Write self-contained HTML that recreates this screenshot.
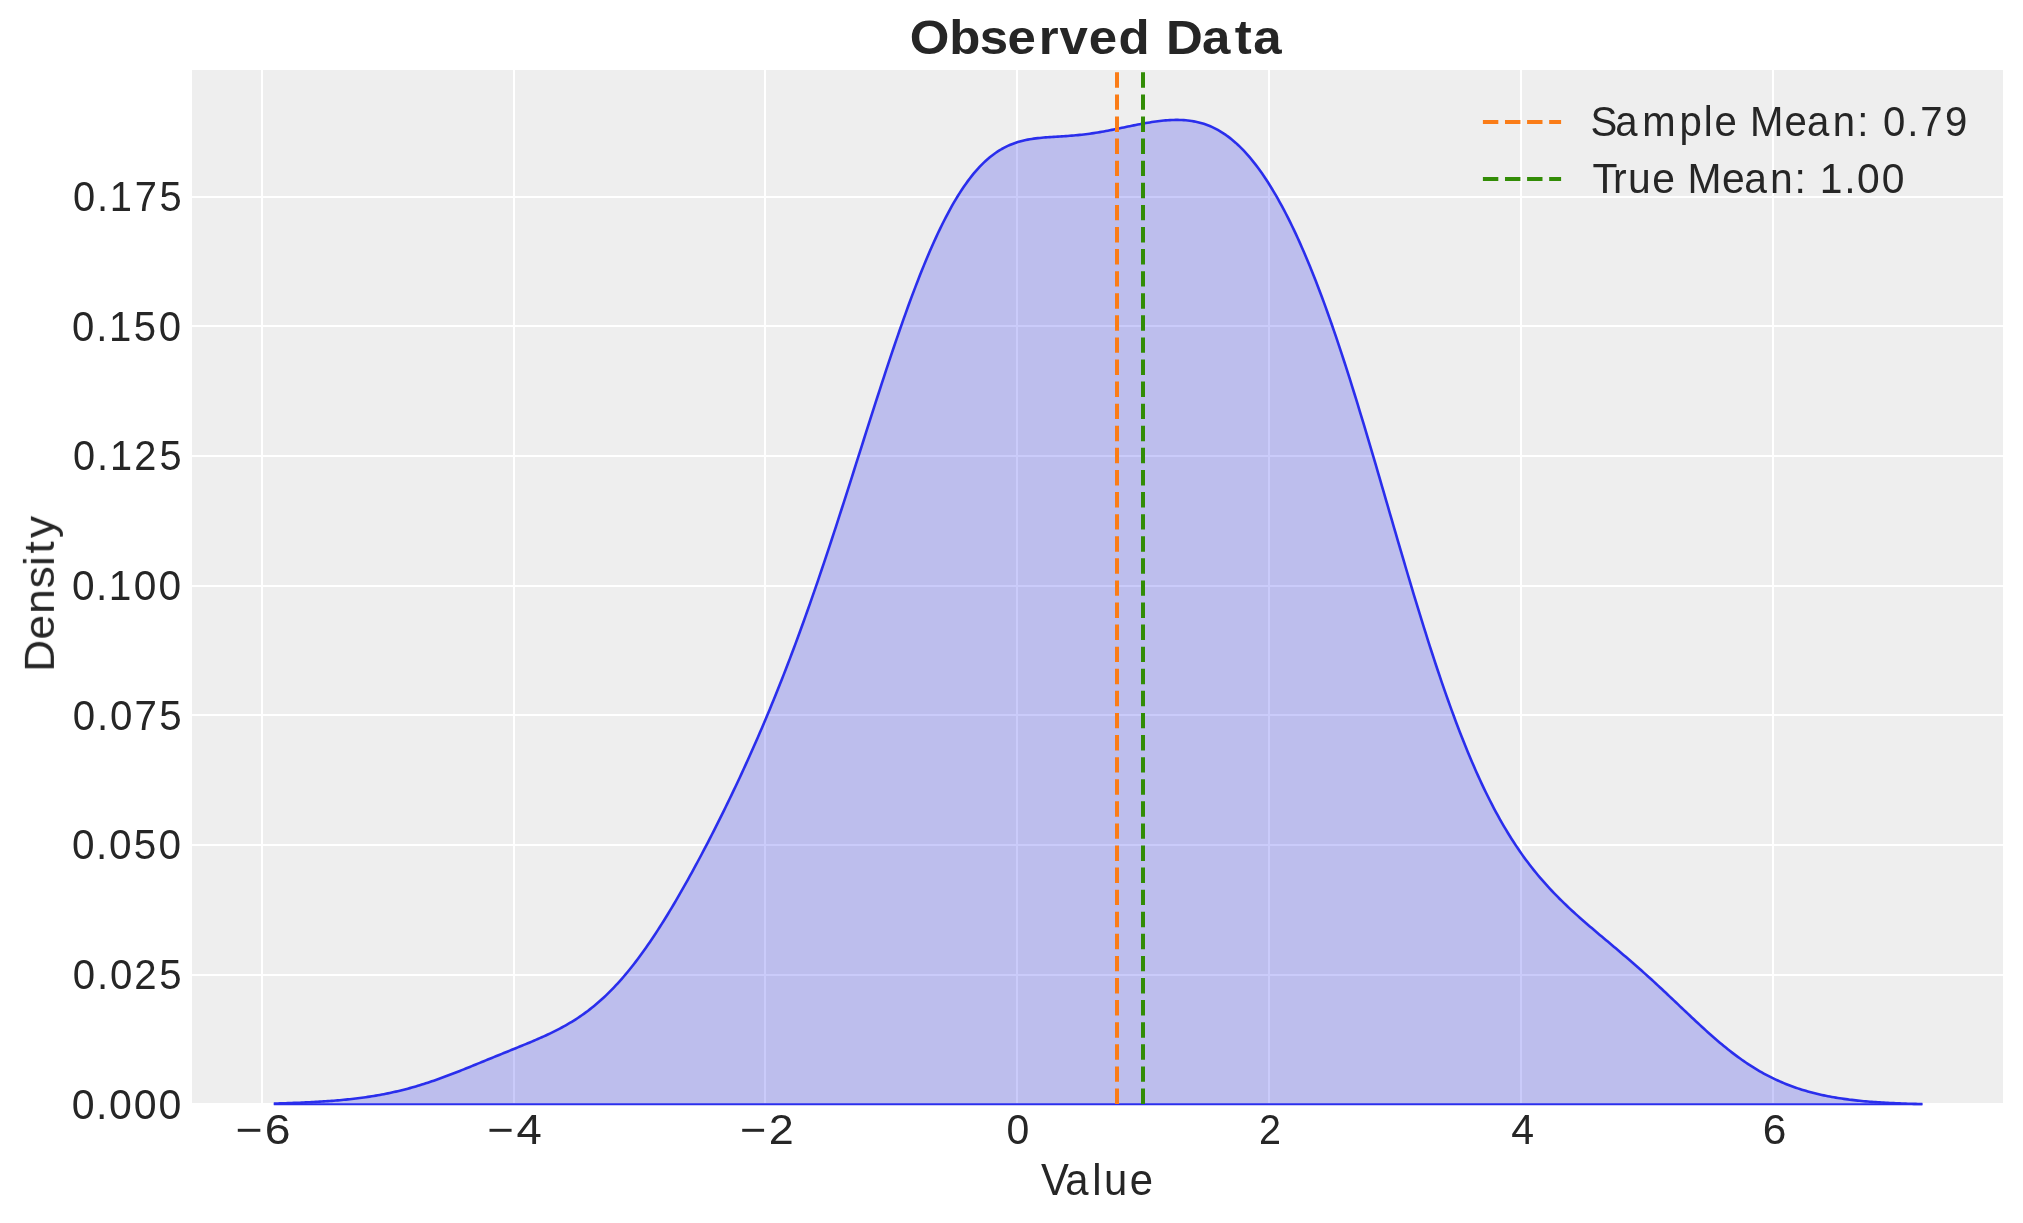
<!DOCTYPE html>
<html><head><meta charset="utf-8"><style>
html,body{margin:0;padding:0;background:#fff;overflow:hidden}
svg{display:block}
text{font-family:"Liberation Sans", sans-serif;fill:#262626}
g.txt{will-change:transform}
</style></head><body>
<svg width="2023" height="1223" viewBox="0 0 2023 1223">
<rect x="0" y="0" width="2023" height="1223" fill="#ffffff"/>
<rect x="192" y="70" width="1811" height="1033" fill="#eeeeee"/>
<g stroke="#ffffff" stroke-width="2" shape-rendering="crispEdges">
<line x1="262" y1="70" x2="262" y2="1103"/>
<line x1="514" y1="70" x2="514" y2="1103"/>
<line x1="765" y1="70" x2="765" y2="1103"/>
<line x1="1017" y1="70" x2="1017" y2="1103"/>
<line x1="1269" y1="70" x2="1269" y2="1103"/>
<line x1="1521" y1="70" x2="1521" y2="1103"/>
<line x1="1773" y1="70" x2="1773" y2="1103"/>
<line x1="192" y1="197" x2="2003" y2="197"/>
<line x1="192" y1="326" x2="2003" y2="326"/>
<line x1="192" y1="456" x2="2003" y2="456"/>
<line x1="192" y1="586" x2="2003" y2="586"/>
<line x1="192" y1="715" x2="2003" y2="715"/>
<line x1="192" y1="845" x2="2003" y2="845"/>
<line x1="192" y1="975" x2="2003" y2="975"/>
</g>
<path d="M273.8,1103.53 L275.8,1103.48 L277.8,1103.43 L279.8,1103.37 L281.8,1103.31 L283.8,1103.25 L285.8,1103.19 L287.8,1103.13 L289.8,1103.06 L291.8,1102.99 L293.8,1102.92 L295.8,1102.84 L297.8,1102.76 L299.8,1102.68 L301.8,1102.59 L303.8,1102.51 L305.8,1102.41 L307.8,1102.32 L309.8,1102.22 L311.8,1102.12 L313.8,1102.01 L315.8,1101.90 L317.8,1101.78 L319.8,1101.66 L321.8,1101.54 L323.8,1101.41 L325.8,1101.27 L327.8,1101.13 L329.8,1100.99 L331.8,1100.84 L333.8,1100.68 L335.8,1100.51 L337.8,1100.35 L339.8,1100.17 L341.8,1099.99 L343.8,1099.80 L345.8,1099.60 L347.8,1099.40 L349.8,1099.18 L351.8,1098.96 L353.8,1098.74 L355.8,1098.50 L357.8,1098.26 L359.8,1098.00 L361.8,1097.74 L363.8,1097.47 L365.8,1097.18 L367.8,1096.89 L369.8,1096.59 L371.8,1096.28 L373.8,1095.95 L375.8,1095.62 L377.8,1095.28 L379.8,1094.92 L381.8,1094.55 L383.8,1094.17 L385.8,1093.78 L387.8,1093.38 L389.8,1092.96 L391.8,1092.54 L393.8,1092.10 L395.8,1091.64 L397.8,1091.18 L399.8,1090.70 L401.8,1090.21 L403.8,1089.71 L405.8,1089.19 L407.8,1088.66 L409.8,1088.12 L411.8,1087.56 L413.8,1087.00 L415.8,1086.42 L417.8,1085.82 L419.8,1085.22 L421.8,1084.60 L423.8,1083.97 L425.8,1083.33 L427.8,1082.68 L429.8,1082.02 L431.8,1081.34 L433.8,1080.65 L435.8,1079.96 L437.8,1079.25 L439.8,1078.54 L441.8,1077.81 L443.8,1077.08 L445.8,1076.33 L447.8,1075.58 L449.8,1074.82 L451.8,1074.06 L453.8,1073.28 L455.8,1072.51 L457.8,1071.72 L459.8,1070.93 L461.8,1070.13 L463.8,1069.34 L465.8,1068.53 L467.8,1067.72 L469.8,1066.92 L471.8,1066.10 L473.8,1065.29 L475.8,1064.47 L477.8,1063.65 L479.8,1062.84 L481.8,1062.02 L483.8,1061.20 L485.8,1060.38 L487.8,1059.56 L489.8,1058.74 L491.8,1057.93 L493.8,1057.11 L495.8,1056.29 L497.8,1055.48 L499.8,1054.67 L501.8,1053.85 L503.8,1053.04 L505.8,1052.23 L507.8,1051.42 L509.8,1050.61 L511.8,1049.80 L513.8,1048.99 L515.8,1048.18 L517.8,1047.36 L519.8,1046.55 L521.8,1045.73 L523.8,1044.91 L525.8,1044.09 L527.8,1043.26 L529.8,1042.43 L531.8,1041.59 L533.8,1040.74 L535.8,1039.88 L537.8,1039.02 L539.8,1038.14 L541.8,1037.26 L543.8,1036.36 L545.8,1035.45 L547.8,1034.52 L549.8,1033.58 L551.8,1032.62 L553.8,1031.64 L555.8,1030.64 L557.8,1029.62 L559.8,1028.58 L561.8,1027.52 L563.8,1026.42 L565.8,1025.31 L567.8,1024.16 L569.8,1022.99 L571.8,1021.79 L573.8,1020.55 L575.8,1019.28 L577.8,1017.98 L579.8,1016.64 L581.8,1015.27 L583.8,1013.86 L585.8,1012.41 L587.8,1010.92 L589.8,1009.39 L591.8,1007.82 L593.8,1006.21 L595.8,1004.55 L597.8,1002.85 L599.8,1001.10 L601.8,999.31 L603.8,997.48 L605.8,995.60 L607.8,993.67 L609.8,991.69 L611.8,989.67 L613.8,987.59 L615.8,985.47 L617.8,983.30 L619.8,981.09 L621.8,978.82 L623.8,976.51 L625.8,974.15 L627.8,971.74 L629.8,969.28 L631.8,966.78 L633.8,964.23 L635.8,961.63 L637.8,958.99 L639.8,956.30 L641.8,953.56 L643.8,950.78 L645.8,947.96 L647.8,945.10 L649.8,942.19 L651.8,939.24 L653.8,936.24 L655.8,933.21 L657.8,930.14 L659.8,927.03 L661.8,923.88 L663.8,920.69 L665.8,917.47 L667.8,914.21 L669.8,910.91 L671.8,907.59 L673.8,904.22 L675.8,900.83 L677.8,897.40 L679.8,893.94 L681.8,890.45 L683.8,886.94 L685.8,883.39 L687.8,879.81 L689.8,876.20 L691.8,872.57 L693.8,868.91 L695.8,865.22 L697.8,861.50 L699.8,857.76 L701.8,853.99 L703.8,850.20 L705.8,846.38 L707.8,842.53 L709.8,838.66 L711.8,834.76 L713.8,830.84 L715.8,826.89 L717.8,822.92 L719.8,818.92 L721.8,814.90 L723.8,810.84 L725.8,806.76 L727.8,802.66 L729.8,798.53 L731.8,794.36 L733.8,790.17 L735.8,785.95 L737.8,781.71 L739.8,777.43 L741.8,773.12 L743.8,768.78 L745.8,764.41 L747.8,760.00 L749.8,755.56 L751.8,751.09 L753.8,746.59 L755.8,742.04 L757.8,737.47 L759.8,732.85 L761.8,728.20 L763.8,723.51 L765.8,718.78 L767.8,714.02 L769.8,709.21 L771.8,704.36 L773.8,699.47 L775.8,694.54 L777.8,689.57 L779.8,684.56 L781.8,679.50 L783.8,674.40 L785.8,669.26 L787.8,664.07 L789.8,658.84 L791.8,653.56 L793.8,648.24 L795.8,642.88 L797.8,637.47 L799.8,632.02 L801.8,626.53 L803.8,620.99 L805.8,615.41 L807.8,609.79 L809.8,604.12 L811.8,598.41 L813.8,592.67 L815.8,586.88 L817.8,581.05 L819.8,575.19 L821.8,569.29 L823.8,563.35 L825.8,557.38 L827.8,551.37 L829.8,545.33 L831.8,539.26 L833.8,533.17 L835.8,527.04 L837.8,520.89 L839.8,514.72 L841.8,508.52 L843.8,502.30 L845.8,496.07 L847.8,489.82 L849.8,483.55 L851.8,477.28 L853.8,470.99 L855.8,464.70 L857.8,458.40 L859.8,452.10 L861.8,445.80 L863.8,439.51 L865.8,433.22 L867.8,426.93 L869.8,420.66 L871.8,414.40 L873.8,408.16 L875.8,401.94 L877.8,395.74 L879.8,389.56 L881.8,383.42 L883.8,377.30 L885.8,371.21 L887.8,365.16 L889.8,359.16 L891.8,353.19 L893.8,347.26 L895.8,341.39 L897.8,335.56 L899.8,329.79 L901.8,324.07 L903.8,318.42 L905.8,312.82 L907.8,307.29 L909.8,301.82 L911.8,296.42 L913.8,291.10 L915.8,285.84 L917.8,280.67 L919.8,275.57 L921.8,270.55 L923.8,265.62 L925.8,260.77 L927.8,256.00 L929.8,251.33 L931.8,246.75 L933.8,242.25 L935.8,237.86 L937.8,233.55 L939.8,229.35 L941.8,225.24 L943.8,221.23 L945.8,217.32 L947.8,213.52 L949.8,209.81 L951.8,206.21 L953.8,202.71 L955.8,199.31 L957.8,196.02 L959.8,192.84 L961.8,189.75 L963.8,186.78 L965.8,183.90 L967.8,181.13 L969.8,178.47 L971.8,175.90 L973.8,173.44 L975.8,171.08 L977.8,168.82 L979.8,166.66 L981.8,164.60 L983.8,162.63 L985.8,160.76 L987.8,158.98 L989.8,157.30 L991.8,155.70 L993.8,154.19 L995.8,152.77 L997.8,151.43 L999.8,150.18 L1001.8,149.00 L1003.8,147.90 L1005.8,146.87 L1007.8,145.91 L1009.8,145.03 L1011.8,144.20 L1013.8,143.44 L1015.8,142.74 L1017.8,142.10 L1019.8,141.51 L1021.8,140.97 L1023.8,140.48 L1025.8,140.04 L1027.8,139.64 L1029.8,139.27 L1031.8,138.94 L1033.8,138.65 L1035.8,138.38 L1037.8,138.14 L1039.8,137.92 L1041.8,137.73 L1043.8,137.55 L1045.8,137.39 L1047.8,137.24 L1049.8,137.10 L1051.8,136.97 L1053.8,136.84 L1055.8,136.72 L1057.8,136.60 L1059.8,136.48 L1061.8,136.36 L1063.8,136.23 L1065.8,136.10 L1067.8,135.95 L1069.8,135.81 L1071.8,135.65 L1073.8,135.48 L1075.8,135.30 L1077.8,135.11 L1079.8,134.90 L1081.8,134.68 L1083.8,134.45 L1085.8,134.21 L1087.8,133.95 L1089.8,133.68 L1091.8,133.39 L1093.8,133.09 L1095.8,132.78 L1097.8,132.46 L1099.8,132.12 L1101.8,131.77 L1103.8,131.41 L1105.8,131.05 L1107.8,130.67 L1109.8,130.28 L1111.8,129.89 L1113.8,129.49 L1115.8,129.09 L1117.8,128.68 L1119.8,128.27 L1121.8,127.85 L1123.8,127.44 L1125.8,127.02 L1127.8,126.60 L1129.8,126.19 L1131.8,125.78 L1133.8,125.38 L1135.8,124.98 L1137.8,124.58 L1139.8,124.19 L1141.8,123.82 L1143.8,123.45 L1145.8,123.09 L1147.8,122.74 L1149.8,122.41 L1151.8,122.09 L1153.8,121.79 L1155.8,121.51 L1157.8,121.24 L1159.8,121.00 L1161.8,120.77 L1163.8,120.57 L1165.8,120.39 L1167.8,120.24 L1169.8,120.11 L1171.8,120.01 L1173.8,119.95 L1175.8,119.91 L1177.8,119.91 L1179.8,119.95 L1181.8,120.02 L1183.8,120.13 L1185.8,120.29 L1187.8,120.48 L1189.8,120.73 L1191.8,121.02 L1193.8,121.35 L1195.8,121.74 L1197.8,122.19 L1199.8,122.68 L1201.8,123.24 L1203.8,123.85 L1205.8,124.52 L1207.8,125.26 L1209.8,126.05 L1211.8,126.92 L1213.8,127.85 L1215.8,128.85 L1217.8,129.92 L1219.8,131.06 L1221.8,132.28 L1223.8,133.56 L1225.8,134.93 L1227.8,136.37 L1229.8,137.88 L1231.8,139.48 L1233.8,141.15 L1235.8,142.90 L1237.8,144.73 L1239.8,146.65 L1241.8,148.64 L1243.8,150.72 L1245.8,152.87 L1247.8,155.11 L1249.8,157.44 L1251.8,159.84 L1253.8,162.33 L1255.8,164.90 L1257.8,167.56 L1259.8,170.29 L1261.8,173.11 L1263.8,176.02 L1265.8,179.01 L1267.8,182.08 L1269.8,185.24 L1271.8,188.48 L1273.8,191.80 L1275.8,195.21 L1277.8,198.70 L1279.8,202.27 L1281.8,205.93 L1283.8,209.68 L1285.8,213.50 L1287.8,217.42 L1289.8,221.41 L1291.8,225.49 L1293.8,229.66 L1295.8,233.91 L1297.8,238.24 L1299.8,242.66 L1301.8,247.16 L1303.8,251.75 L1305.8,256.42 L1307.8,261.17 L1309.8,266.01 L1311.8,270.93 L1313.8,275.93 L1315.8,281.01 L1317.8,286.18 L1319.8,291.42 L1321.8,296.75 L1323.8,302.15 L1325.8,307.63 L1327.8,313.19 L1329.8,318.83 L1331.8,324.53 L1333.8,330.31 L1335.8,336.17 L1337.8,342.09 L1339.8,348.08 L1341.8,354.13 L1343.8,360.25 L1345.8,366.43 L1347.8,372.68 L1349.8,378.98 L1351.8,385.33 L1353.8,391.74 L1355.8,398.20 L1357.8,404.71 L1359.8,411.26 L1361.8,417.86 L1363.8,424.49 L1365.8,431.17 L1367.8,437.88 L1369.8,444.61 L1371.8,451.38 L1373.8,458.18 L1375.8,464.99 L1377.8,471.83 L1379.8,478.68 L1381.8,485.54 L1383.8,492.41 L1385.8,499.29 L1387.8,506.18 L1389.8,513.06 L1391.8,519.94 L1393.8,526.81 L1395.8,533.68 L1397.8,540.53 L1399.8,547.37 L1401.8,554.19 L1403.8,560.98 L1405.8,567.75 L1407.8,574.50 L1409.8,581.21 L1411.8,587.89 L1413.8,594.53 L1415.8,601.13 L1417.8,607.70 L1419.8,614.21 L1421.8,620.69 L1423.8,627.11 L1425.8,633.48 L1427.8,639.79 L1429.8,646.05 L1431.8,652.25 L1433.8,658.39 L1435.8,664.47 L1437.8,670.48 L1439.8,676.43 L1441.8,682.30 L1443.8,688.11 L1445.8,693.85 L1447.8,699.52 L1449.8,705.11 L1451.8,710.62 L1453.8,716.06 L1455.8,721.43 L1457.8,726.71 L1459.8,731.92 L1461.8,737.05 L1463.8,742.09 L1465.8,747.06 L1467.8,751.94 L1469.8,756.74 L1471.8,761.47 L1473.8,766.10 L1475.8,770.66 L1477.8,775.14 L1479.8,779.53 L1481.8,783.85 L1483.8,788.08 L1485.8,792.23 L1487.8,796.30 L1489.8,800.29 L1491.8,804.21 L1493.8,808.04 L1495.8,811.80 L1497.8,815.48 L1499.8,819.09 L1501.8,822.62 L1503.8,826.08 L1505.8,829.46 L1507.8,832.78 L1509.8,836.03 L1511.8,839.20 L1513.8,842.32 L1515.8,845.36 L1517.8,848.34 L1519.8,851.26 L1521.8,854.12 L1523.8,856.92 L1525.8,859.66 L1527.8,862.34 L1529.8,864.97 L1531.8,867.55 L1533.8,870.07 L1535.8,872.55 L1537.8,874.97 L1539.8,877.36 L1541.8,879.69 L1543.8,881.98 L1545.8,884.23 L1547.8,886.44 L1549.8,888.62 L1551.8,890.75 L1553.8,892.85 L1555.8,894.92 L1557.8,896.96 L1559.8,898.96 L1561.8,900.94 L1563.8,902.89 L1565.8,904.81 L1567.8,906.71 L1569.8,908.58 L1571.8,910.44 L1573.8,912.27 L1575.8,914.09 L1577.8,915.89 L1579.8,917.67 L1581.8,919.44 L1583.8,921.19 L1585.8,922.93 L1587.8,924.67 L1589.8,926.39 L1591.8,928.10 L1593.8,929.80 L1595.8,931.50 L1597.8,933.20 L1599.8,934.88 L1601.8,936.57 L1603.8,938.25 L1605.8,939.93 L1607.8,941.61 L1609.8,943.29 L1611.8,944.98 L1613.8,946.66 L1615.8,948.35 L1617.8,950.04 L1619.8,951.73 L1621.8,953.43 L1623.8,955.14 L1625.8,956.85 L1627.8,958.57 L1629.8,960.29 L1631.8,962.02 L1633.8,963.77 L1635.8,965.51 L1637.8,967.27 L1639.8,969.04 L1641.8,970.81 L1643.8,972.60 L1645.8,974.39 L1647.8,976.20 L1649.8,978.01 L1651.8,979.83 L1653.8,981.66 L1655.8,983.50 L1657.8,985.35 L1659.8,987.20 L1661.8,989.07 L1663.8,990.94 L1665.8,992.81 L1667.8,994.70 L1669.8,996.58 L1671.8,998.48 L1673.8,1000.37 L1675.8,1002.27 L1677.8,1004.17 L1679.8,1006.07 L1681.8,1007.97 L1683.8,1009.87 L1685.8,1011.77 L1687.8,1013.67 L1689.8,1015.56 L1691.8,1017.44 L1693.8,1019.32 L1695.8,1021.19 L1697.8,1023.06 L1699.8,1024.91 L1701.8,1026.75 L1703.8,1028.58 L1705.8,1030.40 L1707.8,1032.20 L1709.8,1033.99 L1711.8,1035.76 L1713.8,1037.51 L1715.8,1039.24 L1717.8,1040.96 L1719.8,1042.65 L1721.8,1044.33 L1723.8,1045.98 L1725.8,1047.61 L1727.8,1049.21 L1729.8,1050.79 L1731.8,1052.35 L1733.8,1053.88 L1735.8,1055.38 L1737.8,1056.86 L1739.8,1058.31 L1741.8,1059.73 L1743.8,1061.12 L1745.8,1062.49 L1747.8,1063.83 L1749.8,1065.14 L1751.8,1066.43 L1753.8,1067.68 L1755.8,1068.91 L1757.8,1070.10 L1759.8,1071.27 L1761.8,1072.41 L1763.8,1073.52 L1765.8,1074.61 L1767.8,1075.66 L1769.8,1076.69 L1771.8,1077.69 L1773.8,1078.67 L1775.8,1079.62 L1777.8,1080.54 L1779.8,1081.43 L1781.8,1082.30 L1783.8,1083.14 L1785.8,1083.96 L1787.8,1084.76 L1789.8,1085.53 L1791.8,1086.27 L1793.8,1087.00 L1795.8,1087.70 L1797.8,1088.38 L1799.8,1089.03 L1801.8,1089.67 L1803.8,1090.28 L1805.8,1090.87 L1807.8,1091.45 L1809.8,1092.00 L1811.8,1092.53 L1813.8,1093.05 L1815.8,1093.55 L1817.8,1094.03 L1819.8,1094.49 L1821.8,1094.94 L1823.8,1095.37 L1825.8,1095.78 L1827.8,1096.18 L1829.8,1096.56 L1831.8,1096.93 L1833.8,1097.29 L1835.8,1097.63 L1837.8,1097.96 L1839.8,1098.27 L1841.8,1098.57 L1843.8,1098.86 L1845.8,1099.14 L1847.8,1099.41 L1849.8,1099.67 L1851.8,1099.91 L1853.8,1100.15 L1855.8,1100.37 L1857.8,1100.59 L1859.8,1100.79 L1861.8,1100.99 L1863.8,1101.18 L1865.8,1101.36 L1867.8,1101.53 L1869.8,1101.69 L1871.8,1101.85 L1873.8,1102.00 L1875.8,1102.14 L1877.8,1102.28 L1879.8,1102.41 L1881.8,1102.53 L1883.8,1102.65 L1885.8,1102.76 L1887.8,1102.87 L1889.8,1102.97 L1891.8,1103.07 L1893.8,1103.16 L1895.8,1103.25 L1897.8,1103.33 L1899.8,1103.41 L1901.8,1103.48 L1903.8,1103.55 L1905.8,1103.62 L1907.8,1103.68 L1909.8,1103.74 L1911.8,1103.80 L1913.8,1103.86 L1915.8,1103.91 L1917.8,1103.95 L1919.8,1104.00 L1921.8,1104.04 L1922.4,1104.06 L1922.40,1104.25 L273.80,1104.25 Z" fill="#2a2eec" fill-opacity="0.25" stroke="none"/>
<line x1="273.80" y1="1104.25" x2="1922.40" y2="1104.25" stroke="#2a2eec" stroke-width="1.9"/>
<path d="M273.8,1103.53 L275.8,1103.48 L277.8,1103.43 L279.8,1103.37 L281.8,1103.31 L283.8,1103.25 L285.8,1103.19 L287.8,1103.13 L289.8,1103.06 L291.8,1102.99 L293.8,1102.92 L295.8,1102.84 L297.8,1102.76 L299.8,1102.68 L301.8,1102.59 L303.8,1102.51 L305.8,1102.41 L307.8,1102.32 L309.8,1102.22 L311.8,1102.12 L313.8,1102.01 L315.8,1101.90 L317.8,1101.78 L319.8,1101.66 L321.8,1101.54 L323.8,1101.41 L325.8,1101.27 L327.8,1101.13 L329.8,1100.99 L331.8,1100.84 L333.8,1100.68 L335.8,1100.51 L337.8,1100.35 L339.8,1100.17 L341.8,1099.99 L343.8,1099.80 L345.8,1099.60 L347.8,1099.40 L349.8,1099.18 L351.8,1098.96 L353.8,1098.74 L355.8,1098.50 L357.8,1098.26 L359.8,1098.00 L361.8,1097.74 L363.8,1097.47 L365.8,1097.18 L367.8,1096.89 L369.8,1096.59 L371.8,1096.28 L373.8,1095.95 L375.8,1095.62 L377.8,1095.28 L379.8,1094.92 L381.8,1094.55 L383.8,1094.17 L385.8,1093.78 L387.8,1093.38 L389.8,1092.96 L391.8,1092.54 L393.8,1092.10 L395.8,1091.64 L397.8,1091.18 L399.8,1090.70 L401.8,1090.21 L403.8,1089.71 L405.8,1089.19 L407.8,1088.66 L409.8,1088.12 L411.8,1087.56 L413.8,1087.00 L415.8,1086.42 L417.8,1085.82 L419.8,1085.22 L421.8,1084.60 L423.8,1083.97 L425.8,1083.33 L427.8,1082.68 L429.8,1082.02 L431.8,1081.34 L433.8,1080.65 L435.8,1079.96 L437.8,1079.25 L439.8,1078.54 L441.8,1077.81 L443.8,1077.08 L445.8,1076.33 L447.8,1075.58 L449.8,1074.82 L451.8,1074.06 L453.8,1073.28 L455.8,1072.51 L457.8,1071.72 L459.8,1070.93 L461.8,1070.13 L463.8,1069.34 L465.8,1068.53 L467.8,1067.72 L469.8,1066.92 L471.8,1066.10 L473.8,1065.29 L475.8,1064.47 L477.8,1063.65 L479.8,1062.84 L481.8,1062.02 L483.8,1061.20 L485.8,1060.38 L487.8,1059.56 L489.8,1058.74 L491.8,1057.93 L493.8,1057.11 L495.8,1056.29 L497.8,1055.48 L499.8,1054.67 L501.8,1053.85 L503.8,1053.04 L505.8,1052.23 L507.8,1051.42 L509.8,1050.61 L511.8,1049.80 L513.8,1048.99 L515.8,1048.18 L517.8,1047.36 L519.8,1046.55 L521.8,1045.73 L523.8,1044.91 L525.8,1044.09 L527.8,1043.26 L529.8,1042.43 L531.8,1041.59 L533.8,1040.74 L535.8,1039.88 L537.8,1039.02 L539.8,1038.14 L541.8,1037.26 L543.8,1036.36 L545.8,1035.45 L547.8,1034.52 L549.8,1033.58 L551.8,1032.62 L553.8,1031.64 L555.8,1030.64 L557.8,1029.62 L559.8,1028.58 L561.8,1027.52 L563.8,1026.42 L565.8,1025.31 L567.8,1024.16 L569.8,1022.99 L571.8,1021.79 L573.8,1020.55 L575.8,1019.28 L577.8,1017.98 L579.8,1016.64 L581.8,1015.27 L583.8,1013.86 L585.8,1012.41 L587.8,1010.92 L589.8,1009.39 L591.8,1007.82 L593.8,1006.21 L595.8,1004.55 L597.8,1002.85 L599.8,1001.10 L601.8,999.31 L603.8,997.48 L605.8,995.60 L607.8,993.67 L609.8,991.69 L611.8,989.67 L613.8,987.59 L615.8,985.47 L617.8,983.30 L619.8,981.09 L621.8,978.82 L623.8,976.51 L625.8,974.15 L627.8,971.74 L629.8,969.28 L631.8,966.78 L633.8,964.23 L635.8,961.63 L637.8,958.99 L639.8,956.30 L641.8,953.56 L643.8,950.78 L645.8,947.96 L647.8,945.10 L649.8,942.19 L651.8,939.24 L653.8,936.24 L655.8,933.21 L657.8,930.14 L659.8,927.03 L661.8,923.88 L663.8,920.69 L665.8,917.47 L667.8,914.21 L669.8,910.91 L671.8,907.59 L673.8,904.22 L675.8,900.83 L677.8,897.40 L679.8,893.94 L681.8,890.45 L683.8,886.94 L685.8,883.39 L687.8,879.81 L689.8,876.20 L691.8,872.57 L693.8,868.91 L695.8,865.22 L697.8,861.50 L699.8,857.76 L701.8,853.99 L703.8,850.20 L705.8,846.38 L707.8,842.53 L709.8,838.66 L711.8,834.76 L713.8,830.84 L715.8,826.89 L717.8,822.92 L719.8,818.92 L721.8,814.90 L723.8,810.84 L725.8,806.76 L727.8,802.66 L729.8,798.53 L731.8,794.36 L733.8,790.17 L735.8,785.95 L737.8,781.71 L739.8,777.43 L741.8,773.12 L743.8,768.78 L745.8,764.41 L747.8,760.00 L749.8,755.56 L751.8,751.09 L753.8,746.59 L755.8,742.04 L757.8,737.47 L759.8,732.85 L761.8,728.20 L763.8,723.51 L765.8,718.78 L767.8,714.02 L769.8,709.21 L771.8,704.36 L773.8,699.47 L775.8,694.54 L777.8,689.57 L779.8,684.56 L781.8,679.50 L783.8,674.40 L785.8,669.26 L787.8,664.07 L789.8,658.84 L791.8,653.56 L793.8,648.24 L795.8,642.88 L797.8,637.47 L799.8,632.02 L801.8,626.53 L803.8,620.99 L805.8,615.41 L807.8,609.79 L809.8,604.12 L811.8,598.41 L813.8,592.67 L815.8,586.88 L817.8,581.05 L819.8,575.19 L821.8,569.29 L823.8,563.35 L825.8,557.38 L827.8,551.37 L829.8,545.33 L831.8,539.26 L833.8,533.17 L835.8,527.04 L837.8,520.89 L839.8,514.72 L841.8,508.52 L843.8,502.30 L845.8,496.07 L847.8,489.82 L849.8,483.55 L851.8,477.28 L853.8,470.99 L855.8,464.70 L857.8,458.40 L859.8,452.10 L861.8,445.80 L863.8,439.51 L865.8,433.22 L867.8,426.93 L869.8,420.66 L871.8,414.40 L873.8,408.16 L875.8,401.94 L877.8,395.74 L879.8,389.56 L881.8,383.42 L883.8,377.30 L885.8,371.21 L887.8,365.16 L889.8,359.16 L891.8,353.19 L893.8,347.26 L895.8,341.39 L897.8,335.56 L899.8,329.79 L901.8,324.07 L903.8,318.42 L905.8,312.82 L907.8,307.29 L909.8,301.82 L911.8,296.42 L913.8,291.10 L915.8,285.84 L917.8,280.67 L919.8,275.57 L921.8,270.55 L923.8,265.62 L925.8,260.77 L927.8,256.00 L929.8,251.33 L931.8,246.75 L933.8,242.25 L935.8,237.86 L937.8,233.55 L939.8,229.35 L941.8,225.24 L943.8,221.23 L945.8,217.32 L947.8,213.52 L949.8,209.81 L951.8,206.21 L953.8,202.71 L955.8,199.31 L957.8,196.02 L959.8,192.84 L961.8,189.75 L963.8,186.78 L965.8,183.90 L967.8,181.13 L969.8,178.47 L971.8,175.90 L973.8,173.44 L975.8,171.08 L977.8,168.82 L979.8,166.66 L981.8,164.60 L983.8,162.63 L985.8,160.76 L987.8,158.98 L989.8,157.30 L991.8,155.70 L993.8,154.19 L995.8,152.77 L997.8,151.43 L999.8,150.18 L1001.8,149.00 L1003.8,147.90 L1005.8,146.87 L1007.8,145.91 L1009.8,145.03 L1011.8,144.20 L1013.8,143.44 L1015.8,142.74 L1017.8,142.10 L1019.8,141.51 L1021.8,140.97 L1023.8,140.48 L1025.8,140.04 L1027.8,139.64 L1029.8,139.27 L1031.8,138.94 L1033.8,138.65 L1035.8,138.38 L1037.8,138.14 L1039.8,137.92 L1041.8,137.73 L1043.8,137.55 L1045.8,137.39 L1047.8,137.24 L1049.8,137.10 L1051.8,136.97 L1053.8,136.84 L1055.8,136.72 L1057.8,136.60 L1059.8,136.48 L1061.8,136.36 L1063.8,136.23 L1065.8,136.10 L1067.8,135.95 L1069.8,135.81 L1071.8,135.65 L1073.8,135.48 L1075.8,135.30 L1077.8,135.11 L1079.8,134.90 L1081.8,134.68 L1083.8,134.45 L1085.8,134.21 L1087.8,133.95 L1089.8,133.68 L1091.8,133.39 L1093.8,133.09 L1095.8,132.78 L1097.8,132.46 L1099.8,132.12 L1101.8,131.77 L1103.8,131.41 L1105.8,131.05 L1107.8,130.67 L1109.8,130.28 L1111.8,129.89 L1113.8,129.49 L1115.8,129.09 L1117.8,128.68 L1119.8,128.27 L1121.8,127.85 L1123.8,127.44 L1125.8,127.02 L1127.8,126.60 L1129.8,126.19 L1131.8,125.78 L1133.8,125.38 L1135.8,124.98 L1137.8,124.58 L1139.8,124.19 L1141.8,123.82 L1143.8,123.45 L1145.8,123.09 L1147.8,122.74 L1149.8,122.41 L1151.8,122.09 L1153.8,121.79 L1155.8,121.51 L1157.8,121.24 L1159.8,121.00 L1161.8,120.77 L1163.8,120.57 L1165.8,120.39 L1167.8,120.24 L1169.8,120.11 L1171.8,120.01 L1173.8,119.95 L1175.8,119.91 L1177.8,119.91 L1179.8,119.95 L1181.8,120.02 L1183.8,120.13 L1185.8,120.29 L1187.8,120.48 L1189.8,120.73 L1191.8,121.02 L1193.8,121.35 L1195.8,121.74 L1197.8,122.19 L1199.8,122.68 L1201.8,123.24 L1203.8,123.85 L1205.8,124.52 L1207.8,125.26 L1209.8,126.05 L1211.8,126.92 L1213.8,127.85 L1215.8,128.85 L1217.8,129.92 L1219.8,131.06 L1221.8,132.28 L1223.8,133.56 L1225.8,134.93 L1227.8,136.37 L1229.8,137.88 L1231.8,139.48 L1233.8,141.15 L1235.8,142.90 L1237.8,144.73 L1239.8,146.65 L1241.8,148.64 L1243.8,150.72 L1245.8,152.87 L1247.8,155.11 L1249.8,157.44 L1251.8,159.84 L1253.8,162.33 L1255.8,164.90 L1257.8,167.56 L1259.8,170.29 L1261.8,173.11 L1263.8,176.02 L1265.8,179.01 L1267.8,182.08 L1269.8,185.24 L1271.8,188.48 L1273.8,191.80 L1275.8,195.21 L1277.8,198.70 L1279.8,202.27 L1281.8,205.93 L1283.8,209.68 L1285.8,213.50 L1287.8,217.42 L1289.8,221.41 L1291.8,225.49 L1293.8,229.66 L1295.8,233.91 L1297.8,238.24 L1299.8,242.66 L1301.8,247.16 L1303.8,251.75 L1305.8,256.42 L1307.8,261.17 L1309.8,266.01 L1311.8,270.93 L1313.8,275.93 L1315.8,281.01 L1317.8,286.18 L1319.8,291.42 L1321.8,296.75 L1323.8,302.15 L1325.8,307.63 L1327.8,313.19 L1329.8,318.83 L1331.8,324.53 L1333.8,330.31 L1335.8,336.17 L1337.8,342.09 L1339.8,348.08 L1341.8,354.13 L1343.8,360.25 L1345.8,366.43 L1347.8,372.68 L1349.8,378.98 L1351.8,385.33 L1353.8,391.74 L1355.8,398.20 L1357.8,404.71 L1359.8,411.26 L1361.8,417.86 L1363.8,424.49 L1365.8,431.17 L1367.8,437.88 L1369.8,444.61 L1371.8,451.38 L1373.8,458.18 L1375.8,464.99 L1377.8,471.83 L1379.8,478.68 L1381.8,485.54 L1383.8,492.41 L1385.8,499.29 L1387.8,506.18 L1389.8,513.06 L1391.8,519.94 L1393.8,526.81 L1395.8,533.68 L1397.8,540.53 L1399.8,547.37 L1401.8,554.19 L1403.8,560.98 L1405.8,567.75 L1407.8,574.50 L1409.8,581.21 L1411.8,587.89 L1413.8,594.53 L1415.8,601.13 L1417.8,607.70 L1419.8,614.21 L1421.8,620.69 L1423.8,627.11 L1425.8,633.48 L1427.8,639.79 L1429.8,646.05 L1431.8,652.25 L1433.8,658.39 L1435.8,664.47 L1437.8,670.48 L1439.8,676.43 L1441.8,682.30 L1443.8,688.11 L1445.8,693.85 L1447.8,699.52 L1449.8,705.11 L1451.8,710.62 L1453.8,716.06 L1455.8,721.43 L1457.8,726.71 L1459.8,731.92 L1461.8,737.05 L1463.8,742.09 L1465.8,747.06 L1467.8,751.94 L1469.8,756.74 L1471.8,761.47 L1473.8,766.10 L1475.8,770.66 L1477.8,775.14 L1479.8,779.53 L1481.8,783.85 L1483.8,788.08 L1485.8,792.23 L1487.8,796.30 L1489.8,800.29 L1491.8,804.21 L1493.8,808.04 L1495.8,811.80 L1497.8,815.48 L1499.8,819.09 L1501.8,822.62 L1503.8,826.08 L1505.8,829.46 L1507.8,832.78 L1509.8,836.03 L1511.8,839.20 L1513.8,842.32 L1515.8,845.36 L1517.8,848.34 L1519.8,851.26 L1521.8,854.12 L1523.8,856.92 L1525.8,859.66 L1527.8,862.34 L1529.8,864.97 L1531.8,867.55 L1533.8,870.07 L1535.8,872.55 L1537.8,874.97 L1539.8,877.36 L1541.8,879.69 L1543.8,881.98 L1545.8,884.23 L1547.8,886.44 L1549.8,888.62 L1551.8,890.75 L1553.8,892.85 L1555.8,894.92 L1557.8,896.96 L1559.8,898.96 L1561.8,900.94 L1563.8,902.89 L1565.8,904.81 L1567.8,906.71 L1569.8,908.58 L1571.8,910.44 L1573.8,912.27 L1575.8,914.09 L1577.8,915.89 L1579.8,917.67 L1581.8,919.44 L1583.8,921.19 L1585.8,922.93 L1587.8,924.67 L1589.8,926.39 L1591.8,928.10 L1593.8,929.80 L1595.8,931.50 L1597.8,933.20 L1599.8,934.88 L1601.8,936.57 L1603.8,938.25 L1605.8,939.93 L1607.8,941.61 L1609.8,943.29 L1611.8,944.98 L1613.8,946.66 L1615.8,948.35 L1617.8,950.04 L1619.8,951.73 L1621.8,953.43 L1623.8,955.14 L1625.8,956.85 L1627.8,958.57 L1629.8,960.29 L1631.8,962.02 L1633.8,963.77 L1635.8,965.51 L1637.8,967.27 L1639.8,969.04 L1641.8,970.81 L1643.8,972.60 L1645.8,974.39 L1647.8,976.20 L1649.8,978.01 L1651.8,979.83 L1653.8,981.66 L1655.8,983.50 L1657.8,985.35 L1659.8,987.20 L1661.8,989.07 L1663.8,990.94 L1665.8,992.81 L1667.8,994.70 L1669.8,996.58 L1671.8,998.48 L1673.8,1000.37 L1675.8,1002.27 L1677.8,1004.17 L1679.8,1006.07 L1681.8,1007.97 L1683.8,1009.87 L1685.8,1011.77 L1687.8,1013.67 L1689.8,1015.56 L1691.8,1017.44 L1693.8,1019.32 L1695.8,1021.19 L1697.8,1023.06 L1699.8,1024.91 L1701.8,1026.75 L1703.8,1028.58 L1705.8,1030.40 L1707.8,1032.20 L1709.8,1033.99 L1711.8,1035.76 L1713.8,1037.51 L1715.8,1039.24 L1717.8,1040.96 L1719.8,1042.65 L1721.8,1044.33 L1723.8,1045.98 L1725.8,1047.61 L1727.8,1049.21 L1729.8,1050.79 L1731.8,1052.35 L1733.8,1053.88 L1735.8,1055.38 L1737.8,1056.86 L1739.8,1058.31 L1741.8,1059.73 L1743.8,1061.12 L1745.8,1062.49 L1747.8,1063.83 L1749.8,1065.14 L1751.8,1066.43 L1753.8,1067.68 L1755.8,1068.91 L1757.8,1070.10 L1759.8,1071.27 L1761.8,1072.41 L1763.8,1073.52 L1765.8,1074.61 L1767.8,1075.66 L1769.8,1076.69 L1771.8,1077.69 L1773.8,1078.67 L1775.8,1079.62 L1777.8,1080.54 L1779.8,1081.43 L1781.8,1082.30 L1783.8,1083.14 L1785.8,1083.96 L1787.8,1084.76 L1789.8,1085.53 L1791.8,1086.27 L1793.8,1087.00 L1795.8,1087.70 L1797.8,1088.38 L1799.8,1089.03 L1801.8,1089.67 L1803.8,1090.28 L1805.8,1090.87 L1807.8,1091.45 L1809.8,1092.00 L1811.8,1092.53 L1813.8,1093.05 L1815.8,1093.55 L1817.8,1094.03 L1819.8,1094.49 L1821.8,1094.94 L1823.8,1095.37 L1825.8,1095.78 L1827.8,1096.18 L1829.8,1096.56 L1831.8,1096.93 L1833.8,1097.29 L1835.8,1097.63 L1837.8,1097.96 L1839.8,1098.27 L1841.8,1098.57 L1843.8,1098.86 L1845.8,1099.14 L1847.8,1099.41 L1849.8,1099.67 L1851.8,1099.91 L1853.8,1100.15 L1855.8,1100.37 L1857.8,1100.59 L1859.8,1100.79 L1861.8,1100.99 L1863.8,1101.18 L1865.8,1101.36 L1867.8,1101.53 L1869.8,1101.69 L1871.8,1101.85 L1873.8,1102.00 L1875.8,1102.14 L1877.8,1102.28 L1879.8,1102.41 L1881.8,1102.53 L1883.8,1102.65 L1885.8,1102.76 L1887.8,1102.87 L1889.8,1102.97 L1891.8,1103.07 L1893.8,1103.16 L1895.8,1103.25 L1897.8,1103.33 L1899.8,1103.41 L1901.8,1103.48 L1903.8,1103.55 L1905.8,1103.62 L1907.8,1103.68 L1909.8,1103.74 L1911.8,1103.80 L1913.8,1103.86 L1915.8,1103.91 L1917.8,1103.95 L1919.8,1104.00 L1921.8,1104.04 L1922.4,1104.06" fill="none" stroke="#2a2eec" stroke-width="2.6" stroke-linejoin="round"/>
<line x1="1117.00" y1="1103.90" x2="1117.00" y2="70" stroke="#fa7c17" stroke-width="4" stroke-dasharray="15.42 6.67"/>
<line x1="1143.00" y1="1103.90" x2="1143.00" y2="70" stroke="#328c06" stroke-width="4" stroke-dasharray="15.42 6.67"/>
<line x1="1482.9" y1="122.0" x2="1561.1" y2="122.0" stroke="#fa7c17" stroke-width="4" stroke-dasharray="15.42 6.67"/>
<line x1="1482.9" y1="179.0" x2="1561.1" y2="179.0" stroke="#328c06" stroke-width="4" stroke-dasharray="15.42 6.67"/>
<g class="txt"><text transform="translate(0,53.70) scale(1.0757,1)" x="845.77 882.36 910.81 936.72 965.64 984.94 1012.23 1039.81 1065.63 1084.05 1117.33 1147.87 1165.08" y="0" font-size="47.38" font-weight="bold">Observed Data</text>
<text transform="translate(0,1118.67) scale(0.9806,1)" x="73.22 97.96 111.06 136.29 161.53" y="0" font-size="41.86">0.000</text>
<text transform="translate(0,989.01) scale(0.9593,1)" x="75.95 101.11 114.64 139.89 166.07" y="0" font-size="41.86">0.025</text>
<text transform="translate(0,859.35) scale(0.9675,1)" x="74.36 99.35 112.71 138.13 163.86" y="0" font-size="41.86">0.050</text>
<text transform="translate(0,729.69) scale(0.9625,1)" x="75.66 100.75 114.21 139.84 165.47" y="0" font-size="41.86">0.075</text>
<text transform="translate(0,600.03) scale(0.9709,1)" x="74.06 98.99 112.07 137.76 163.25" y="0" font-size="41.86">0.100</text>
<text transform="translate(0,470.37) scale(0.9490,1)" x="76.90 102.27 115.80 141.54 167.99" y="0" font-size="41.86">0.125</text>
<text transform="translate(0,340.71) scale(0.9576,1)" x="75.26 100.45 113.80 139.69 165.69" y="0" font-size="41.86">0.150</text>
<text transform="translate(0,211.05) scale(0.9523,1)" x="76.60 101.90 115.36 141.47 167.37" y="0" font-size="41.86">0.175</text>
<text transform="translate(0,1143.80) scale(1.1077,1)" x="212.56 239.01" y="0" font-size="41.86">−6</text>
<text transform="translate(0,1143.80) scale(1.0862,1)" x="448.63 475.61" y="0" font-size="41.86">−4</text>
<text transform="translate(0,1143.80) scale(1.0746,1)" x="688.72 715.50" y="0" font-size="41.86">−2</text>
<text transform="translate(0,1143.80) scale(0.9793,1)" x="1027.79" y="0" font-size="41.86">0</text>
<text transform="translate(0,1143.80) scale(0.9440,1)" x="1333.79" y="0" font-size="41.86">2</text>
<text transform="translate(0,1143.80) scale(0.9795,1)" x="1542.83" y="0" font-size="41.86">4</text>
<text transform="translate(0,1143.80) scale(1.0136,1)" x="1738.98" y="0" font-size="41.86">6</text>
<text transform="translate(0,1194.95) scale(0.9626,1)" x="1081.42 1106.72 1134.64 1146.82 1173.76" y="0" font-size="43.46">Value</text>
<text transform="translate(53.90,667.70) rotate(-90) scale(1.0250,1)" x="-3.98 27.53 52.70 77.37 99.19 111.35 126.47" y="0" font-size="43.17">Density</text>
<text transform="translate(0,135.90) scale(0.9575,1)" x="1661.07 1687.07 1715.24 1753.97 1779.28 1790.57 1811.99 1827.77 1863.75 1887.17 1914.18 1939.70 1947.51 1966.64 1991.89 2005.43 2031.31" y="0" font-size="41.86">Sample Mean: 0.79</text>
<text transform="translate(0,192.85) scale(0.9757,1)" x="1632.15 1653.18 1668.44 1693.46 1714.88 1729.64 1764.91 1787.75 1814.14 1839.20 1847.01 1865.14 1890.15 1903.32 1928.63" y="0" font-size="41.86">True Mean: 1.00</text></g>
</svg>
</body></html>
